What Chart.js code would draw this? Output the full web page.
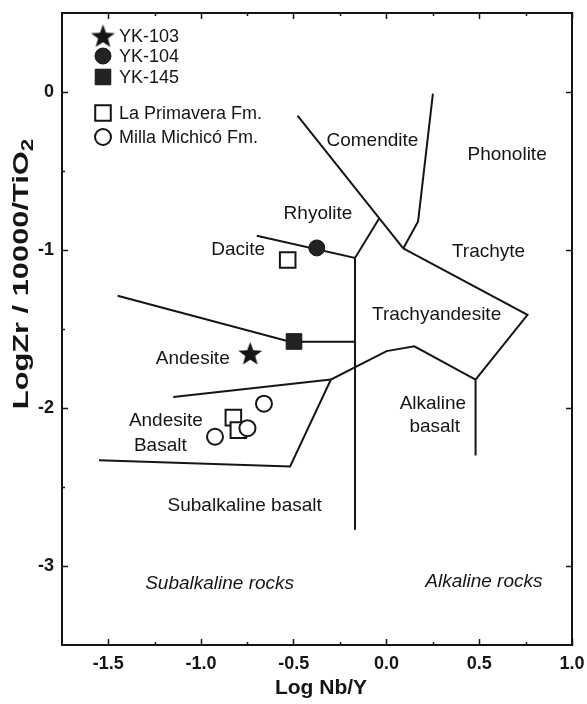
<!DOCTYPE html>
<html>
<head>
<meta charset="utf-8">
<script src="https://cdn.jsdelivr.net/npm/chart.js@4.4.0/dist/chart.umd.min.js"></script>
<style>
  html, body { margin: 0; padding: 0; background: #fff; }
</style>
</head>
<body>
<canvas id="zrTiChart" width="587" height="704"></canvas>
<script>
const FONT = "'Liberation Sans', Arial, Helvetica, sans-serif";
const INK = "#151515";

// field boundaries, [Log Nb/Y, LogZr/TiO2]
const comenditeLine = [[-0.48, -0.15], [0.09, -0.99]];
const phonoliteLine = [[0.25, -0.01], [0.17, -0.82], [0.09, -0.99]];
const trachyteLine = [[0.09, -0.99], [0.76, -1.41], [0.48, -1.82], [0.48, -2.30]];
const alkBasaltLine = [[0.48, -1.82], [0.15, -1.61], [0.0, -1.64], [-0.30, -1.82], [-0.52, -2.37], [-1.55, -2.33]];
const andBasaltTop = [[-1.15, -1.93], [-0.30, -1.82]];
const rhyoliteLine = [[-0.70, -0.91], [-0.17, -1.05], [-0.04, -0.80]];
const dividerLine = [[-0.17, -1.05], [-0.17, -2.77]];
const daciteLine = [[-1.45, -1.29], [-0.52, -1.58], [-0.17, -1.58]];

// samples
const yk103 = [[-0.735, -1.655]];
const yk104 = [[-0.376, -0.987]];
const yk145 = [[-0.499, -1.579]];
const laPrimavera = [[-0.533, -1.063], [-0.826, -2.061], [-0.799, -2.140]];
const millaMichico = [[-0.661, -1.973], [-0.750, -2.128], [-0.925, -2.182]];

// axes
const xTickValues = [-1.5, -1.0, -0.5, 0.0, 0.5, 1.0];
const xTickLabels = ["-1.5", "-1.0", "-0.5", "0.0", "0.5", "1.0"];
const yTickValues = [-3, -2, -1, 0];
const yTickLabels = ["-3", "-2", "-1", "0"];
const xMinorTicks = [-1.25, -0.75, -0.25, 0.25, 0.75];
const yMinorTicks = [-2.5, -1.5, -0.5];

// field names: [text, x, y, italic]
const fieldLabels = [
  ["Comendite", -0.076, -0.31, false],
  ["Phonolite", 0.65, -0.40, false],
  ["Rhyolite", -0.37, -0.77, false],
  ["Trachyte", 0.55, -1.01, false],
  ["Dacite", -0.80, -1.00, false],
  ["Trachyandesite", 0.27, -1.41, false],
  ["Andesite", -1.045, -1.69, false],
  ["Andesite", -1.19, -2.08, false],
  ["Basalt", -1.22, -2.24, false],
  ["Subalkaline basalt", -0.765, -2.62, false],
  ["Alkaline", 0.25, -1.975, false],
  ["basalt", 0.26, -2.12, false],
  ["Subalkaline rocks", -0.90, -3.11, true],
  ["Alkaline rocks", 0.525, -3.10, true],
];

const toXY = (arr) => arr.map(([x, y]) => ({ x, y }));

// filled five point star used as point style
const makeStar = (size) => {
  const c = document.createElement("canvas");
  c.width = size;
  c.height = size;
  const g = c.getContext("2d");
  const r = size / 2, ri = r * 0.42;
  g.beginPath();
  for (let i = 0; i < 10; i++) {
    const rad = i % 2 === 0 ? r : ri;
    const a = -Math.PI / 2 + (i * Math.PI) / 5;
    g.lineTo(r + rad * Math.cos(a), r + 1 + rad * Math.sin(a));
  }
  g.closePath();
  g.fillStyle = INK;
  g.fill();
  return c;
};
const starImg = makeStar(25);

const boundary = (data) => ({
  data: toXY(data),
  showLine: true,
  borderColor: INK,
  borderWidth: 2,
  pointRadius: 0,
  fill: false,
  tension: 0,
});

const samples = [
  { label: "YK-103", data: toXY(yk103), pointStyle: starImg, pointRadius: 12, backgroundColor: INK, borderColor: INK, borderWidth: 0 },
  { label: "YK-104", data: toXY(yk104), pointStyle: "circle", pointRadius: 8, backgroundColor: "#222", borderColor: INK, borderWidth: 1 },
  { label: "YK-145", data: toXY(yk145), pointStyle: "rect", pointRadius: 11, backgroundColor: "#222", borderColor: INK, borderWidth: 1 },
  { label: "Milla Michicó Fm.", data: toXY(millaMichico), pointStyle: "circle", pointRadius: 8, backgroundColor: "#fff", borderColor: INK, borderWidth: 2 },
  { label: "La Primavera Fm.", data: toXY(laPrimavera), pointStyle: "rect", pointRadius: 11, backgroundColor: "#fff", borderColor: INK, borderWidth: 2 },
];

const lines = [comenditeLine, phonoliteLine, trachyteLine, alkBasaltLine, andBasaltTop, rhyoliteLine, dividerLine, daciteLine].map(boundary);

const setTicks = (values) => (scale) => {
  scale.ticks = values.map((v) => ({ value: v }));
};

const frameAxis = (extra) => Object.assign({
  type: "linear",
  grid: { drawOnChartArea: false, tickLength: -6, tickWidth: 1.5, tickColor: INK },
  border: { display: true, color: INK, width: 2 },
}, extra);

const extrasPlugin = {
  id: "extras",
  afterDraw(chart) {
    const { ctx, chartArea: a, scales } = chart;
    const xs = scales.x, ys = scales.y;
    ctx.save();
    ctx.strokeStyle = INK;
    ctx.lineWidth = 1.5;
    // minor ticks
    xMinorTicks.forEach((v) => {
      const px = Math.round(xs.getPixelForValue(v)) + 0.5;
      ctx.beginPath();
      ctx.moveTo(px, a.bottom); ctx.lineTo(px, a.bottom - 3);
      ctx.moveTo(px, a.top); ctx.lineTo(px, a.top + 3);
      ctx.stroke();
    });
    yMinorTicks.forEach((v) => {
      const py = Math.round(ys.getPixelForValue(v)) + 0.5;
      ctx.beginPath();
      ctx.moveTo(a.left, py); ctx.lineTo(a.left + 3, py);
      ctx.stroke();
    });

    // field names
    ctx.fillStyle = INK;
    ctx.textAlign = "center";
    ctx.textBaseline = "middle";
    fieldLabels.forEach(([t, x, y, it]) => {
      ctx.font = (it ? "italic " : "") + "19px " + FONT;
      ctx.fillText(t, xs.getPixelForValue(x), ys.getPixelForValue(y));
    });

    // legend
    const lx = a.left + 41, tx = a.left + 57;
    const rows = [
      [samples[0], 36], [samples[1], 56], [samples[2], 77],
      [samples[4], 113], [samples[3], 137],
    ];
    ctx.textAlign = "left";
    ctx.font = "18px " + FONT;
    rows.forEach(([ds, y]) => {
      ctx.save();
      ctx.fillStyle = ds.backgroundColor;
      ctx.strokeStyle = ds.borderColor;
      ctx.lineWidth = ds.borderWidth;
      Chart.helpers.drawPoint(ctx, {
        pointStyle: ds.pointStyle, radius: ds.pointRadius, rotation: 0, borderWidth: ds.borderWidth,
      }, lx, y);
      ctx.restore();
      ctx.fillText(ds.label, tx, y + 1);
    });

    // axis titles
    ctx.font = "bold 21px " + FONT;
    ctx.textAlign = "center";
    ctx.fillText("Log Nb/Y", (a.left + a.right) / 2 + 4, 688);

    ctx.save();
    ctx.translate(22, 274);
    ctx.rotate(-Math.PI / 2);
    ctx.scale(1.4, 1);
    ctx.textAlign = "left";
    const main = "LogZr / 10000/TiO";
    ctx.font = "bold 22px " + FONT;
    const w1 = ctx.measureText(main).width;
    ctx.font = "bold 16px " + FONT;
    const w2 = ctx.measureText("2").width;
    const start = -(w1 + w2) / 2;
    ctx.font = "bold 22px " + FONT;
    ctx.fillText(main, start, 0);
    ctx.font = "bold 16px " + FONT;
    ctx.fillText("2", start + w1, 7);
    ctx.restore();
    ctx.restore();
  },
};

new Chart(document.getElementById("zrTiChart"), {
  type: "scatter",
  data: { datasets: [...samples, ...lines] },
  options: {
    responsive: false,
    animation: false,
    devicePixelRatio: 1,
    layout: { padding: { top: 10, right: 15, left: 0, bottom: 0 } },
    plugins: { legend: { display: false }, tooltip: { enabled: false } },
    scales: {
      x: frameAxis({
        position: "bottom", min: -1.75, max: 1.0,
        afterBuildTicks: setTicks(xTickValues),
        ticks: { color: INK, padding: 14, maxRotation: 0, autoSkip: false, font: { family: FONT, size: 18, weight: "bold" }, callback: (v, i) => xTickLabels[i] },
        afterFit: (s) => { s.height = 59; s.paddingLeft = 0; s.paddingRight = 0; },
      }),
      x2: frameAxis({
        position: "top", min: -1.75, max: 1.0,
        afterBuildTicks: setTicks(xTickValues),
        ticks: { display: false },
        afterFit: (s) => { s.height = 0; s.paddingLeft = 0; s.paddingRight = 0; },
      }),
      y: frameAxis({
        position: "left", min: -3.5, max: 0.5,
        afterBuildTicks: setTicks(yTickValues),
        ticks: { color: INK, padding: 14, autoSkip: false, font: { family: FONT, size: 18, weight: "bold" }, callback: (v, i) => yTickLabels[i] },
        afterFit: (s) => { s.width = 62; s.paddingTop = 0; s.paddingBottom = 0; },
      }),
      y2: frameAxis({
        position: "right", min: -3.5, max: 0.5,
        afterBuildTicks: setTicks(yTickValues),
        ticks: { display: false },
        afterFit: (s) => { s.width = 0; s.paddingTop = 0; s.paddingBottom = 0; },
      }),
    },
  },
  plugins: [extrasPlugin],
});
</script>
</body>
</html>
